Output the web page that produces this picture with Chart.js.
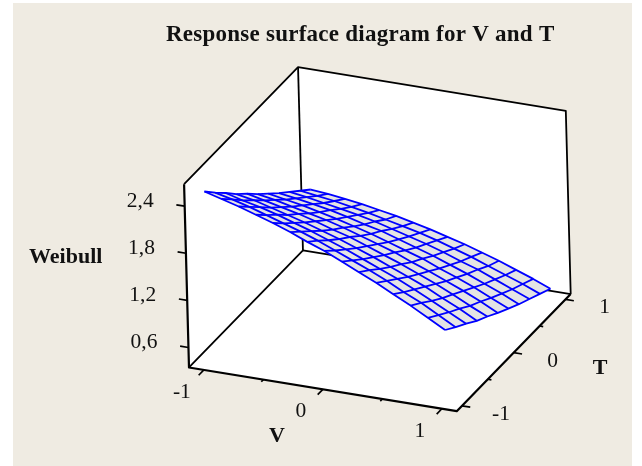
<!DOCTYPE html>
<html>
<head>
<meta charset="utf-8">
<title>Response surface diagram for V and T</title>
<script src="https://cdn.jsdelivr.net/npm/chart.js"></script>
<style>
  html, body { margin: 0; padding: 0; background: #ffffff; }
  canvas { display: block; }
</style>
</head>
<body>
<canvas id="surface" width="642" height="466"></canvas>
<script>
// grid values of the surface
var vGrid = [-1, -0.857, -0.714, -0.571, -0.429, -0.286, -0.143, 0, 0.143, 0.286, 0.429, 0.571, 0.714, 0.857, 1];
var tGrid = [-1, -0.8, -0.6, -0.4, -0.2, 0, 0.2, 0.4, 0.6, 0.8, 1];

// Weibull, one row per V value, T runs left to right
var weibull = [
  [2.55, 2.40, 2.26, 2.11, 1.98, 1.84, 1.71, 1.58, 1.46, 1.34, 1.22],
  [2.49, 2.35, 2.20, 2.07, 1.93, 1.80, 1.67, 1.55, 1.43, 1.31, 1.20],
  [2.43, 2.29, 2.15, 2.01, 1.88, 1.75, 1.63, 1.51, 1.39, 1.28, 1.17],
  [2.36, 2.22, 2.09, 1.95, 1.83, 1.70, 1.58, 1.47, 1.35, 1.24, 1.14],
  [2.29, 2.15, 2.02, 1.89, 1.77, 1.65, 1.53, 1.42, 1.31, 1.20, 1.10],
  [2.21, 2.08, 1.95, 1.82, 1.70, 1.59, 1.47, 1.36, 1.26, 1.15, 1.06],
  [2.12, 2.00, 1.87, 1.75, 1.64, 1.52, 1.41, 1.31, 1.20, 1.10, 1.01],
  [2.04, 1.91, 1.79, 1.67, 1.56, 1.45, 1.34, 1.24, 1.14, 1.05, 0.96],
  [1.94, 1.82, 1.70, 1.59, 1.48, 1.38, 1.27, 1.17, 1.08, 0.99, 0.90],
  [1.84, 1.73, 1.61, 1.50, 1.40, 1.29, 1.20, 1.10, 1.01, 0.92, 0.84],
  [1.74, 1.63, 1.52, 1.41, 1.31, 1.21, 1.11, 1.02, 0.93, 0.85, 0.77],
  [1.63, 1.52, 1.42, 1.32, 1.22, 1.12, 1.03, 0.94, 0.86, 0.77, 0.70],
  [1.52, 1.42, 1.31, 1.21, 1.12, 1.03, 0.94, 0.85, 0.77, 0.69, 0.62],
  [1.40, 1.30, 1.20, 1.11, 1.01, 0.93, 0.84, 0.76, 0.68, 0.61, 0.54],
  [1.28, 1.18, 1.09, 0.99, 0.91, 0.82, 0.74, 0.66, 0.59, 0.52, 0.45]
];

// axis ranges and ticks
var vRange = [-1.125, 1.125];
var tRange = [-1.1, 1.1];
var zRange = [0.345, 2.68];

var vTicks = [-1, 0, 1];
var vMinorTicks = [-0.5, 0.5];
var tTicks = [-1, 0, 1];
var tMinorTicks = [-0.5, 0.5];
var zTicks = [0.6, 1.2, 1.8, 2.4];
var zTickLabels = ["0,6", "1,2", "1,8", "2,4"];

// the scales run in canvas units, this turns (V, T, Weibull) into them
function projiziere(v, t, z) {
  return {
    x: 379.85 + 119 * v + 51.8 * t - 2.1 * (z - zRange[0]),
    y: 330.8 + 19.4 * v - 53.2 * t - 78.5 * (z - zRange[0])
  };
}

var datasets = [];

function linie(punkte, breite, farbe) {
  datasets.push({
    data: punkte,
    showLine: true,
    pointRadius: 0,
    borderWidth: breite,
    borderColor: farbe,
    borderJoinStyle: "round",
    fill: false
  });
}

function flaeche(punkte, farbe) {
  datasets.push({
    data: punkte,
    showLine: true,
    pointRadius: 0,
    borderWidth: 0,
    borderColor: farbe,
    backgroundColor: farbe,
    fill: "shape"
  });
}

var v0 = vRange[0], v1 = vRange[1], t0 = tRange[0], t1 = tRange[1], z0 = zRange[0], z1 = zRange[1];
var vLast = vGrid.length - 1, tLast = tGrid.length - 1;

// white walls and floor
flaeche([
  projiziere(v0, t0, z0), projiziere(v0, t0, z1), projiziere(v0, t1, z1),
  projiziere(v1, t1, z1), projiziere(v1, t1, z0), projiziere(v1, t0, z0)
], "#ffffff");

// back edges of the box
linie([projiziere(v0, t0, z1), projiziere(v0, t1, z1), projiziere(v1, t1, z1), projiziere(v1, t1, z0)], 1.8, "#000000");
linie([projiziere(v0, t1, z1), projiziere(v0, t1, z0)], 1.8, "#000000");
linie([projiziere(v0, t0, z0), projiziere(v0, t1, z0), projiziere(v1, t1, z0)], 1.8, "#000000");

// the three axes
linie([projiziere(v0, t0, z1), projiziere(v0, t0, z0), projiziere(v1, t0, z0), projiziere(v1, t1, z0)], 2.2, "#000000");

// ticks
zTicks.forEach(function (z) {
  linie([projiziere(v0, t0, z), projiziere(v0 - 0.07, t0, z)], 1.7, "#000000");
});
vTicks.forEach(function (v) {
  linie([projiziere(v, t0, z0), projiziere(v, t0 - 0.1, z0)], 1.7, "#000000");
});
vMinorTicks.forEach(function (v) {
  linie([projiziere(v, t0, z0), projiziere(v, t0 - 0.04, z0)], 1.7, "#000000");
});
tTicks.forEach(function (t) {
  linie([projiziere(v1, t, z0), projiziere(v1 + 0.07, t, z0)], 1.7, "#000000");
});
tMinorTicks.forEach(function (t) {
  linie([projiziere(v1, t, z0), projiziere(v1 + 0.03, t, z0)], 1.7, "#000000");
});

// surface: grey outline shape first, blue grid on top
var rand = [];
tGrid.forEach(function (t, j) { rand.push(projiziere(vGrid[0], t, weibull[0][j])); });
vGrid.forEach(function (v, i) { rand.push(projiziere(v, tGrid[tLast], weibull[i][tLast])); });
tGrid.slice().reverse().forEach(function (t, j) { rand.push(projiziere(vGrid[vLast], t, weibull[vLast][tLast - j])); });
vGrid.slice().reverse().forEach(function (v, i) { rand.push(projiziere(v, tGrid[0], weibull[vLast - i][0])); });
flaeche(rand, "#e4e4e4");

vGrid.forEach(function (v, i) {
  linie(tGrid.map(function (t, j) { return projiziere(v, t, weibull[i][j]); }), 1.8, "#0000ff");
});
tGrid.forEach(function (t, j) {
  linie(vGrid.map(function (v, i) { return projiziere(v, t, weibull[i][j]); }), 1.8, "#0000ff");
});

// first dataset is painted last in Chart.js, so turn the list around
datasets.reverse();

var hintergrund = {
  id: "hintergrund",
  beforeDraw: function (chart) {
    var c = chart.ctx;
    c.save();
    c.fillStyle = "#efebe2";
    c.fillRect(13, 3, 619, 463);
    c.restore();
  }
};

var beschriftung = {
  id: "beschriftung",
  afterDraw: function (chart) {
    var c = chart.ctx;
    var sx = chart.scales.x, sy = chart.scales.y;

    function text(s, p, dx, dy, font, align, abstand) {
      c.font = font;
      c.textAlign = align;
      c.textBaseline = "alphabetic";
      c.letterSpacing = abstand || "0px";
      c.fillStyle = "#111111";
      c.fillText(s, sx.getPixelForValue(p.x) + dx, sy.getPixelForValue(p.y) + dy);
    }

    var normal = '21.5px "Liberation Serif"';
    var fett = 'bold 22px "Liberation Serif"';

    zTicks.forEach(function (z, i) {
      text(zTickLabels[i], projiziere(v0, t0, z), -31, 1, normal, "right");
    });
    vTicks.forEach(function (v) {
      text(String(v), projiziere(v, t0, z0), -22, 28, normal, "center");
    });
    tTicks.forEach(function (t) {
      text(String(t), projiziere(v1, t, z0), 39, 14, normal, "center");
    });

    text("Response surface diagram for V and T", { x: 166, y: 40.7 }, 0, 0, 'bold 23px "Liberation Serif"', "left", "0.25px");
    text("Weibull", { x: 29, y: 263.3 }, 0, 0, fett, "left");
    text("V", { x: 277, y: 441.7 }, 0, 0, fett, "center");
    text("T", { x: 600, y: 374 }, 0, 0, fett, "center");
  }
};

new Chart(document.getElementById("surface").getContext("2d"), {
  type: "scatter",
  data: { datasets: datasets },
  options: {
    responsive: false,
    animation: false,
    layout: { padding: 0 },
    plugins: {
      legend: { display: false },
      tooltip: { enabled: false },
      title: { display: false }
    },
    scales: {
      x: { type: "linear", min: 0, max: 642, display: false },
      y: { type: "linear", min: 0, max: 466, reverse: true, display: false }
    }
  },
  plugins: [hintergrund, beschriftung]
});
</script>
</body>
</html>
